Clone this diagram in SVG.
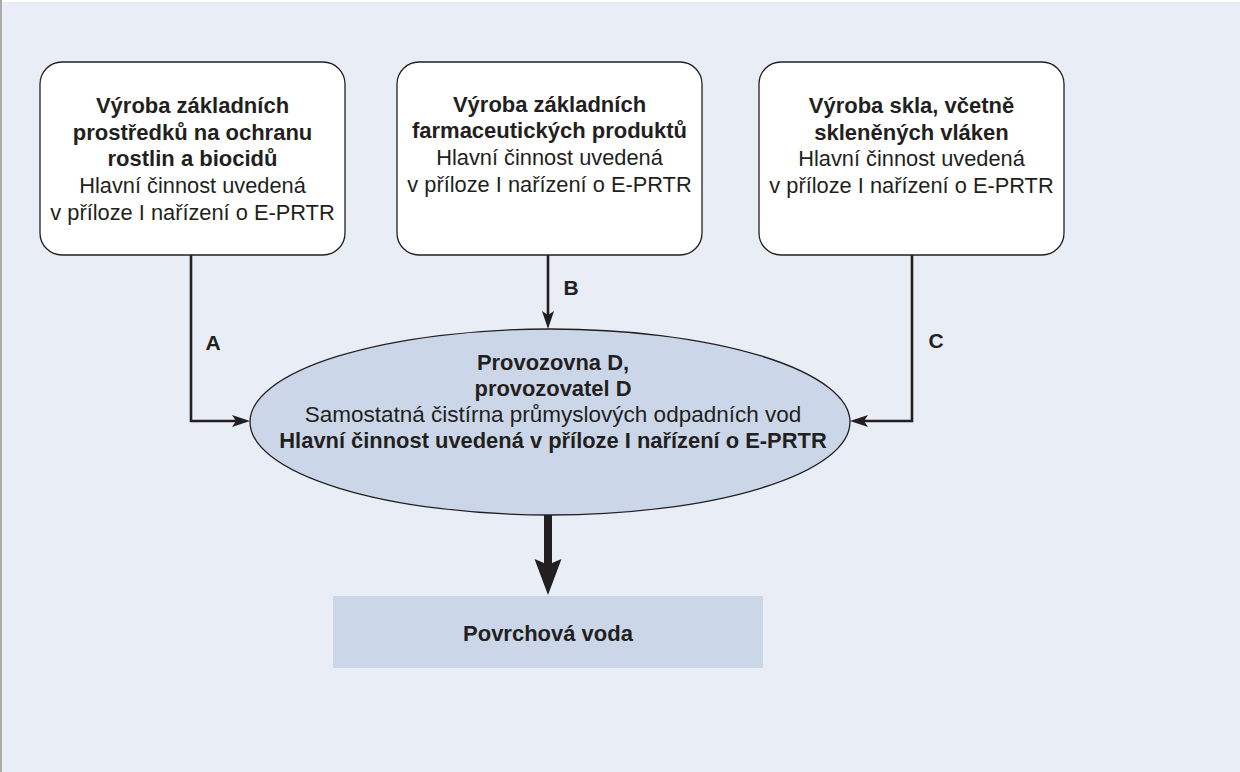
<svg xmlns="http://www.w3.org/2000/svg" width="1240" height="772" viewBox="0 0 1240 772">
<style>
.bg{fill:#E9EDF6}
.box{fill:#FFFFFF;stroke:#231F20;stroke-width:1.3}
.ell{fill:#CBD7E8;stroke:#231F20;stroke-width:1.3}
.rect{fill:#CBD7E8}
.line{fill:none;stroke:#231F20;stroke-width:2.6}
.thick{fill:none;stroke:#231F20;stroke-width:8}
text{font-family:"Liberation Sans",Arial,sans-serif;fill:#231F20;text-anchor:middle;font-size:21.8px}
.b{font-weight:bold;font-size:22px}
.e{font-size:22.5px}
.eb{font-weight:bold;font-size:21.9px}
.lbl{font-weight:bold;font-size:21px}
</style>
<defs>
<marker id="ah" markerUnits="userSpaceOnUse" viewBox="-12 -8 24 16" refX="0" refY="0" markerWidth="24" markerHeight="16" orient="auto">
<path d="M10,0 L-8,-6 L-4,0 L-8,6 Z" fill="#231F20"/>
</marker>
<marker id="ahb" markerUnits="userSpaceOnUse" viewBox="-10 -16 50 32" refX="0" refY="0" markerWidth="50" markerHeight="32" orient="auto">
<path d="M30,0 L-6,-13.5 L-2,-4 L-2,4 L-6,13.5 Z" fill="#231F20"/>
</marker>
</defs>
<rect class="bg" x="0" y="0" width="1240" height="772"/>
<rect x="0" y="0" width="1240" height="2" fill="#FFFFFF"/>
<rect x="0" y="0" width="2" height="772" fill="#ABABAB"/>

<g id="connectors">
<path class="line" d="M191,255 V421 H240" marker-end="url(#ah)"/>
<path class="line" d="M548,255 V319" marker-end="url(#ah)"/>
<path class="line" d="M912,255 V421 H860" marker-end="url(#ah)"/>
<path class="thick" d="M548,515 V565" marker-end="url(#ahb)"/>
<text class="lbl" x="213" y="350">A</text>
<text class="lbl" x="571" y="295">B</text>
<text class="lbl" x="936" y="348">C</text>
</g>

<g id="node-a">
<rect class="box" x="40" y="62" width="305" height="193" rx="22"/>
<text x="192.5" y="113"><tspan class="b">Výroba základních</tspan><tspan class="b" x="192.5" y="140">prostředků na ochranu</tspan><tspan class="b" x="192.5" y="166">rostlin a biocidů</tspan><tspan x="192.5" y="193">Hlavní činnost uvedená</tspan><tspan x="192.5" y="220">v příloze I nařízení o E-PRTR</tspan></text>
</g>

<g id="node-b">
<rect class="box" x="397" y="62" width="305" height="193" rx="22"/>
<text x="549.5" y="112"><tspan class="b">Výroba základních</tspan><tspan class="b" x="549.5" y="138">farmaceutických produktů</tspan><tspan x="549.5" y="165">Hlavní činnost uvedená</tspan><tspan x="549.5" y="192">v příloze I nařízení o E-PRTR</tspan></text>
</g>

<g id="node-c">
<rect class="box" x="759" y="62" width="305" height="193" rx="22"/>
<text x="911.5" y="113"><tspan class="b">Výroba skla, včetně</tspan><tspan class="b" x="911.5" y="140">skleněných vláken</tspan><tspan x="911.5" y="166">Hlavní činnost uvedená</tspan><tspan x="911.5" y="193">v příloze I nařízení o E-PRTR</tspan></text>
</g>

<g id="node-d">
<ellipse class="ell" cx="550" cy="422" rx="300" ry="93"/>
<text class="e" x="553" y="370"><tspan class="eb">Provozovna D,</tspan><tspan class="eb" x="553" y="396">provozovatel D</tspan><tspan x="553" y="422">Samostatná čistírna průmyslových odpadních vod</tspan><tspan class="eb" x="553" y="448">Hlavní činnost uvedená v příloze I nařízení o E-PRTR</tspan></text>
</g>

<g id="node-e">
<rect class="rect" x="333" y="596" width="430" height="72"/>
<text x="548" y="641" class="b">Povrchová voda</text>
</g>
</svg>
